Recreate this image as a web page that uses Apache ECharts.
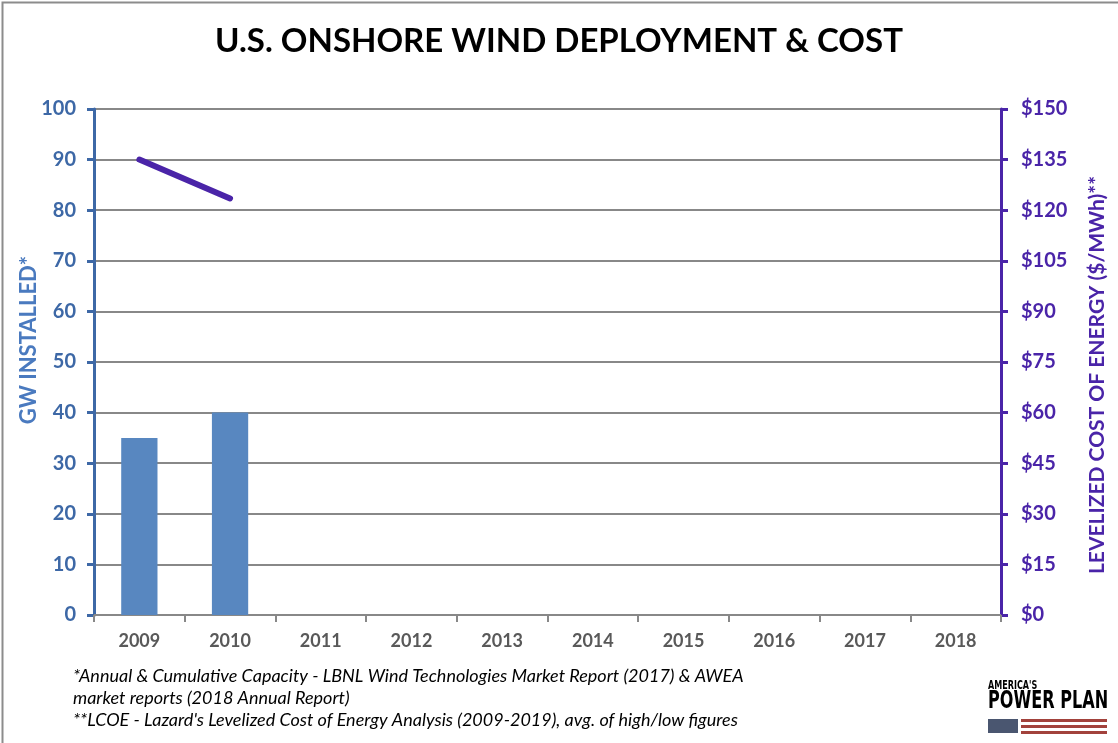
<!DOCTYPE html>
<html><head><meta charset="utf-8">
<script src="https://cdn.jsdelivr.net/npm/echarts@6/dist/echarts.min.js"></script>
<style>html,body{margin:0;padding:0;background:#fff}#c{width:1118px;height:743px}</style>
</head><body><div id="c"></div>
<script>
const years = ['2009','2010','2011','2012','2013','2014','2015','2016','2017','2018'];
const gwInstalled = [35, 40, null, null, null, null, null, null, null, null];
const lcoe = [135, 123.5, null, null, null, null, null, null, null, null];
const leftTicks = [0,10,20,30,40,50,60,70,80,90,100];
const rightTicks = [0,15,30,45,60,75,90,105,120,135,150];

const blue = '#3d68a6', purple = '#4a24a8', barC = '#5887c0';
const chart = echarts.init(document.getElementById('c'));
chart.setOption({
  animation: false,
  backgroundColor: '#fff',
  title: { text: 'U.S. ONSHORE WIND DEPLOYMENT & COST', left: 'center', top: 20,
    textStyle: { fontFamily: 'Lato', fontWeight: 'bold', fontSize: 33, color: '#000' } },
  grid: { left: 94, right: 117, top: 109, bottom: 128 },
  xAxis: { type: 'category', data: years, boundaryGap: true,
    axisLine: { lineStyle: { color: '#888', width: 2 } },
    axisTick: { show: true, alignWithLabel: false, length: 7, lineStyle: { color: '#888', width: 2 } },
    axisLabel: { color: '#595959', fontFamily: 'Lato', fontWeight: 'bold', fontSize: 18, margin: 17 } },
  yAxis: [
    { type: 'value', min: leftTicks[0], max: leftTicks[leftTicks.length-1], interval: 10, position: 'left',
      axisLine: { show: true, lineStyle: { color: blue, width: 3 } },
      axisTick: { show: true, length: 7, lineStyle: { color: blue, width: 3 } },
      axisLabel: { color: blue, fontFamily: 'Lato', fontWeight: 'bold', fontSize: 20, margin: 18 },
      splitLine: { show: true, lineStyle: { color: '#888', width: 2 } } },
    { type: 'value', min: rightTicks[0], max: rightTicks[rightTicks.length-1], interval: 15, position: 'right',
      axisLine: { show: true, lineStyle: { color: purple, width: 3 } },
      axisTick: { show: true, length: 7, lineStyle: { color: purple, width: 3 } },
      axisLabel: { color: purple, fontFamily: 'Lato', fontWeight: 'bold', fontSize: 20, margin: 20,
        formatter: v => '$' + v },
      splitLine: { show: false } }
  ],
  series: [
    { type: 'bar', data: gwInstalled, yAxisIndex: 0, barWidth: '40%', itemStyle: { color: barC } },
    { type: 'line', data: lcoe, yAxisIndex: 1, showSymbol: false, symbol: 'none',
      lineStyle: { color: purple, width: 6, cap: 'round' } }
  ],
  graphic: [
    { type: 'rect', left: 0, top: 0, shape: { x: 0, y: 0, width: 1117, height: 742 },
      style: { fill: 'none', stroke: '#8c8c8c', lineWidth: 2 }, silent: true },
    { type: 'text', x: 29, y: 340, rotation: Math.PI/2,
      style: { text: 'GW INSTALLED*', fill: '#4a7abf', font: 'bold 22px Lato', align: 'center', verticalAlign: 'middle' } },
    { type: 'text', x: 1097, y: 375, rotation: Math.PI/2,
      style: { text: 'LEVELIZED COST OF ENERGY ($/MWh)**', fill: purple, font: 'bold 21px Lato', align: 'center', verticalAlign: 'middle' } },
    { type: 'text', left: 73, top: 665, style: { text: '*Annual & Cumulative Capacity - LBNL Wind Technologies Market Report (2017) & AWEA\nmarket reports (2018 Annual Report)\n**LCOE - Lazard\'s Levelized Cost of Energy Analysis (2009-2019), avg. of high/low figures',
      fill: '#000', font: 'italic 18px Lato', lineHeight: 22 } },
    { type: 'group', x: 988, y: 680, scaleX: 0.67, children: [
      { type: 'text', x: 0, y: 0, style: { text: "AMERICA'S", fill: '#000', font: 'bold 12px "DejaVu Sans"' } },
      { type: 'text', x: 0, y: 10, style: { text: 'POWER PLAN', fill: '#000', font: 'bold 24px "DejaVu Sans"' } }
    ] },
    { type: 'rect', shape: { x: 988, y: 719, width: 30, height: 14 }, style: { fill: '#4a5670' } },
    { type: 'rect', shape: { x: 1021, y: 719, width: 86, height: 3 }, style: { fill: '#a2423c' } },
    { type: 'rect', shape: { x: 1021, y: 725, width: 86, height: 3 }, style: { fill: '#a2423c' } },
    { type: 'rect', shape: { x: 1021, y: 731, width: 86, height: 3 }, style: { fill: '#a2423c' } }
  ]
});
</script></body></html>
